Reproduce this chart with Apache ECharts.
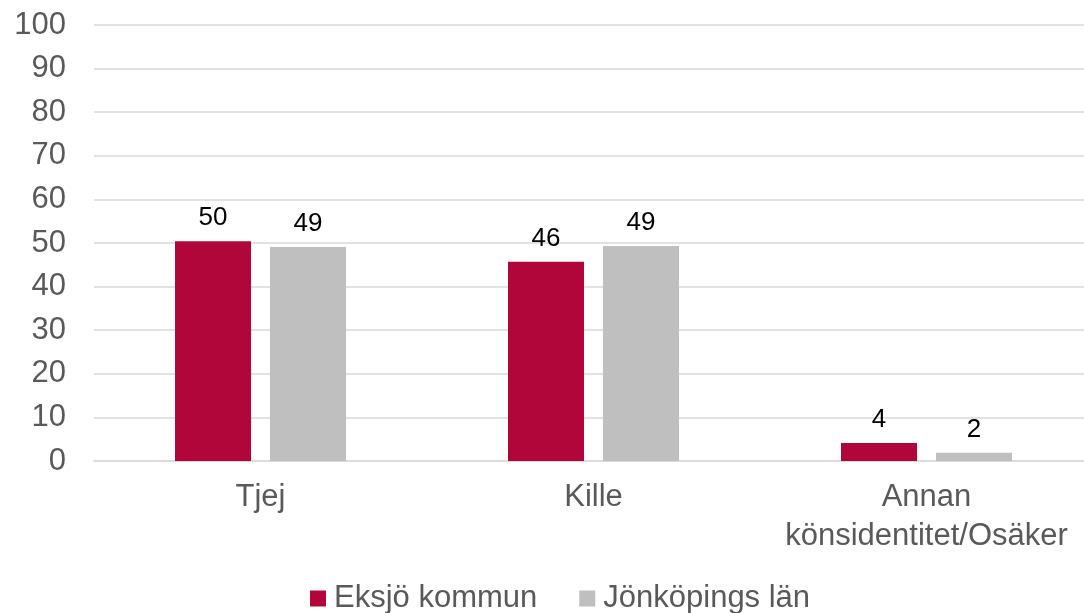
<!DOCTYPE html>
<html>
<head>
<meta charset="utf-8">
<script src="https://cdn.jsdelivr.net/npm/echarts@6/dist/echarts.min.js"></script>
<style>
  html, body { margin: 0; padding: 0; background: #fff; }
  #chart { width: 1084px; height: 613px; }
</style>
</head>
<body>
<div id="chart"></div>
<script>
// kategorier och värden (procent)
const categories = ['Tjej', 'Kille', 'Annan\nkönsidentitet/Osäker'];
const eksjo = [50.4, 45.7, 4.1];
const jonkoping = [49.1, 49.3, 1.9];

const chart = echarts.init(document.getElementById('chart'));

const labelStyle = {
  show: true,
  position: 'top',
  distance: 10,
  color: '#000',
  fontSize: 26,
  fontFamily: 'Liberation Sans, Arial, sans-serif',
  formatter: p => Math.round(p.value),
};

const option = {
  animation: false,
  textStyle: { fontFamily: 'Liberation Sans, Arial, sans-serif' },
  grid: { left: 94, width: 999, top: 25, bottom: 152, outerBoundsMode: 'none' },
  legend: {
    top: 578,
    left: 305,
    itemWidth: 16,
    itemHeight: 16,
    itemGap: 42,
    icon: 'rect',
    textStyle: { fontSize: 31, color: '#595959', padding: [0, 0, 0, 3] },
    data: ['Eksjö kommun', 'Jönköpings län'],
  },
  xAxis: {
    type: 'category',
    data: categories,
    axisLine: { lineStyle: { color: '#d9d9d9', width: 1.5 } },
    axisTick: { show: false },
    axisLabel: { interval: 0, hideOverlap: false, fontSize: 31, color: '#595959', margin: 17, lineHeight: 39 },
  },
  yAxis: {
    type: 'value',
    min: 0,
    max: 100,
    interval: 10,
    axisLine: { show: false },
    axisTick: { show: false },
    splitLine: { lineStyle: { color: '#d9d9d9', width: 1.5 } },
    axisLabel: { fontSize: 31, color: '#595959', margin: 28 },
  },
  series: [
    {
      name: 'Eksjö kommun',
      type: 'bar',
      data: eksjo,
      barWidth: 76,
      barGap: '25%',
      itemStyle: { color: '#b1063a' },
      label: labelStyle,
    },
    {
      name: 'Jönköpings län',
      type: 'bar',
      data: jonkoping,
      barWidth: 76,
      itemStyle: { color: '#bfbfbf' },
      label: labelStyle,
    },
  ],
};

chart.setOption(option);
window.addEventListener('resize', () => chart.resize());
</script>
</body>
</html>
